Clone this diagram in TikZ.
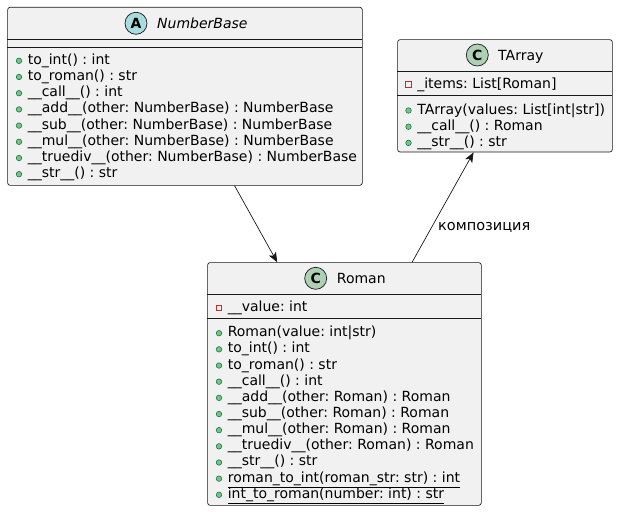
\documentclass[tikz,border=0pt]{standalone}
\usepackage{fontspec}
\setmainfont{DejaVu Sans}
\usetikzlibrary{arrows.meta}
\definecolor{boxfill}{HTML}{F1F1F1}
\definecolor{boxline}{HTML}{181818}
\definecolor{absicon}{HTML}{A9DCDF}
\definecolor{clsicon}{HTML}{ADD1B2}
\definecolor{pubfill}{HTML}{84BE84}
\definecolor{publine}{HTML}{038048}
\definecolor{privline}{HTML}{C82930}
\frenchspacing
\newcommand{\umlpub}[4]{\node[pubicon] (#1i) at (#2,#3-3.5) {}; \node[member] (#1) at (#2+8.6,#3) {#4};}
\newcommand{\umlpriv}[4]{\node[privicon] (#1i) at (#2,#3-4) {}; \node[member] (#1) at (#2+8.6,#3) {#4};}
\begin{document}
\begin{tikzpicture}[x=1pt,y=-1pt,
 classbox/.style={draw=boxline, fill=boxfill, line width=0.65pt, rounded corners=2.5pt, anchor=north west, inner sep=0pt},
 divider/.style={draw=boxline, line width=0.65pt},
 member/.style={anchor=base west, inner sep=0pt, font=\fontsize{14}{16}\selectfont\frenchspacing},
 titletext/.style={anchor=base west, inner sep=0pt, font=\fontsize{14}{16}\selectfont},
 classicon/.style={circle, draw=boxline, line width=0.7pt, minimum size=22pt, inner sep=0pt, font=\fontsize{14}{16}\selectfont\bfseries},
 pubicon/.style={circle, draw=publine, fill=pubfill, minimum size=5.5pt, inner sep=0pt, line width=0.6pt},
 privicon/.style={rectangle, draw=privline, minimum size=5.5pt, inner sep=0pt, line width=0.8pt},
 rel/.style={draw=boxline, line width=0.7pt, -{Stealth[length=10pt,width=8pt,inset=2.5pt]}},
 rellabel/.style={anchor=base west, inner sep=0pt, font=\fontsize{14.5}{16}\selectfont},
]
\useasboundingbox (0,0) rectangle (618,511);

% NumberBase
\node[classbox, minimum width=354.7pt, minimum height=178pt] (nb) at (7.3,7) {};
\draw[divider] (7.3,39) -- (362,39);
\draw[divider] (7.3,47.3) -- (362,47.3);
\node[classicon, fill=absicon] (nbicon) at (136,23.3) {A};
\node[titletext, font=\fontsize{14}{16}\selectfont\itshape] (nbtitle) at (157,28.4) {NumberBase};
\umlpub{nba}{19}{64.3}{to\_int() : int}
\umlpub{nbb}{19}{80.5}{to\_roman() : str}
\umlpub{nbc}{19}{96.7}{\_\_call\_\_() : int}
\umlpub{nbd}{19}{112.9}{\_\_add\_\_(other: NumberBase) : NumberBase}
\umlpub{nbe}{19}{129.1}{\_\_sub\_\_(other: NumberBase) : NumberBase}
\umlpub{nbf}{19}{145.3}{\_\_mul\_\_(other: NumberBase) : NumberBase}
\umlpub{nbg}{19}{161.5}{\_\_truediv\_\_(other: NumberBase) : NumberBase}
\umlpub{nbh}{19}{177.7}{\_\_str\_\_() : str}

% TArray
\node[classbox, minimum width=214.7pt, minimum height=112.4pt] (ta) at (397.3,39.3) {};
\draw[divider] (397.3,71.7) -- (612,71.7);
\draw[divider] (397.3,95) -- (612,95);
\node[classicon, fill=clsicon] (taicon) at (477.3,55) {C};
\node[titletext] (tatitle) at (498,60) {TArray};
\umlpriv{taa}{408.5}{88.3}{\_items: List[Roman]}
\umlpub{tab}{408.5}{114}{TArray(values: List[int|str])}
\umlpub{tac}{408.5}{130.2}{\_\_call\_\_() : Roman}
\umlpub{tad}{408.5}{146.4}{\_\_str\_\_() : str}

% Roman
\node[classbox, minimum width=273.7pt, minimum height=242.7pt] (roman) at (207.3,262.3) {};
\draw[divider] (207.3,294.3) -- (481,294.3);
\draw[divider] (207.3,318.3) -- (481,318.3);
\node[classicon, fill=clsicon] (roicon) at (315.7,278.3) {C};
\node[titletext] (rotitle) at (336.7,283.3) {Roman};
\umlpriv{roa}{219}{311.7}{\_\_value: int}
\umlpub{rob}{219}{336.7}{Roman(value: int|str)}
\umlpub{roc}{219}{352.86}{to\_int() : int}
\umlpub{rod}{219}{369.02}{to\_roman() : str}
\umlpub{roe}{219}{385.18}{\_\_call\_\_() : int}
\umlpub{rof}{219}{401.34}{\_\_add\_\_(other: Roman) : Roman}
\umlpub{rog}{219}{417.5}{\_\_sub\_\_(other: Roman) : Roman}
\umlpub{roh}{219}{433.66}{\_\_mul\_\_(other: Roman) : Roman}
\umlpub{roi}{219}{449.82}{\_\_truediv\_\_(other: Roman) : Roman}
\umlpub{roj}{219}{465.98}{\_\_str\_\_() : str}
\umlpub{rok}{219}{482.14}{\underline{roman\_to\_int(roman\_str: str) : int}}
\umlpub{rol}{219}{498.3}{\underline{int\_to\_roman(number: int) : str}}

% relations
\draw[rel] (nb) -- (roman);
\draw[rel] (roman) -- (ta);
\node[rellabel] (comp) at (438,230) {композиция};
\end{tikzpicture}
\end{document}
